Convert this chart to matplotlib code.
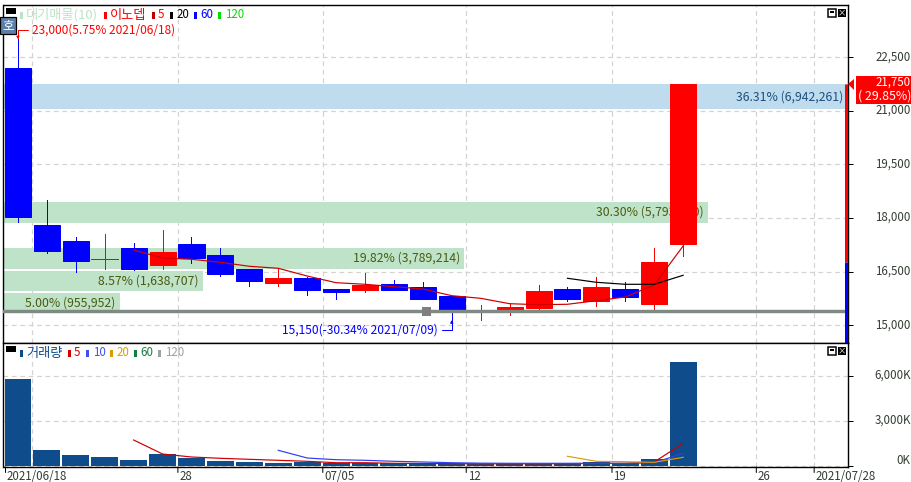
import matplotlib
matplotlib.use('Agg')
import matplotlib.pyplot as plt
from matplotlib.patches import Rectangle, Polygon
from matplotlib.transforms import Affine2D, blended_transform_factory, ScaledTranslation

plt.rcParams['font.family'] = ['Noto Sans CJK KR', 'DejaVu Sans']
plt.rcParams['font.size'] = 8.3

# candles, prices
opens = [22193, 17806, 17359, 16847, 17163, 16687, 17275, 16967, 16575, 16184, 16323, 16016,
         15988, 16156, 16072, 15820, 15392, 15428, 15484, 16016, 15680, 16016, 15596, 17283]
closes = [18031, 17087, 16808, 16847, 16575, 17051, 16883, 16435, 16239, 16323, 15988, 15932,
          16128, 15988, 15736, 15428, 15392, 15512, 15960, 15736, 16072, 15792, 16771, 21750]
highs = [23000, 18506, 17470, 17554, 17303, 17666, 17470, 17163, 16575, 16603, 16360, 16016,
         16463, 16268, 16212, 15820, 15568, 15624, 16128, 16072, 16351, 16212, 17163, 21750]
lows = [17891, 17031, 16500, 16575, 16547, 16575, 16743, 16379, 16100, 16100, 15848, 15736,
        15932, 15988, 15736, 15150, 15150, 15288, 15428, 15680, 15540, 15680, 15428, 16939]

ma5_start = 4
ma5 = [17107, 16883, 16847, 16763, 16651, 16595, 16379, 16192, 16147, 16080, 16016, 15828,
       15755, 15604, 15576, 15588, 15688, 15792, 16128, 17219]
ma20_start = 19
ma20 = [16315, 16203, 16147, 16147, 16399]

# volume profile bands
band_pct = [36.31, 30.30, 19.82, 8.57, 5.00]
band_vol = ['6,942,261', '5,793,000', '3,789,214', '1,638,707', '955,952']
band_low = [21038, 17871, 16575, 15960, 15336]
band_high = [21752, 18450, 17163, 16519, 15904]
band_color = ['#bfdcee', '#bfe3c8', '#bfe3c8', '#bfe3c8', '#bfe3c8']
band_text = ['#1c4f80', '#4a5a10', '#4a5a10', '#4a5a10', '#4a5a10']

support = 15392
support_idx = 14.12
price_ticks = [15000, 16500, 18000, 19500, 21000, 22500]
price_labels = ['15,000', '16,500', '18,000', '19,500', '21,000', '22,500']
split_price = 16771

# volume, in K
volume = [5800, 1050, 716, 582, 381, 783, 515, 314, 248, 181, 248, 181,
          181, 150, 150, 130, 110, 110, 130, 160, 248, 163, 448, 6942]
vol_ma5_start = 4
vol_ma5 = [1719, 783, 582, 495, 428, 361, 294, 200, 200, 160, 150, 140, 130, 130, 130, 140,
           150, 160, 248, 1500]
vol_ma10_start = 9
vol_ma10 = [1030, 515, 401, 361, 294, 250, 200, 170, 160, 160, 160, 160, 160, 200, 830]
vol_ma20_start = 19
vol_ma20 = [629, 294, 268, 227, 562]
vol_ticks = [0, 3000, 6000]
vol_labels = ['0K', '3,000K', '6,000K']

date_pos = [-0.43, 5.53, 10.54, 15.5, 20.54, 25.53, 27.53]
date_labels = ['2021/06/18', '28', '07/05', '12', '19', '26', '2021/07/28']
grid_pos = [0.5, 5.53, 10.54, 15.5, 20.54, 25.53, 27.53]

W, H = 912, 482
RED = '#ff0000'
BLUE = '#0000ff'
NAVY = '#0e4c8c'
px = 0.72

fig = plt.figure(figsize=(W / 100, H / 100), dpi=100)
ax = fig.add_axes([3.5 / W, 1 - 343.3 / H, 844.5 / W, 338.3 / H])
ax2 = fig.add_axes([3.5 / W, 1 - 467 / H, 844.5 / W, 123.7 / H])
ui = fig.add_axes([0, 0, 1, 1], zorder=10)
ui.set_xlim(0, W)
ui.set_ylim(H, 0)
ui.axis('off')

for a in (ax, ax2):
    a.set_xlim(-0.5, 28.7)
    a.yaxis.tick_right()
    a.set_xticks([])
    a.tick_params(axis='y', length=3.6, width=px, pad=41.5, labelcolor='#333d33')
    for s in a.spines.values():
        s.set_linewidth(1.4 * px)
    for g in grid_pos:
        a.axvline(g, color='#d6d2d2', lw=px * 1.2, ls=(0, (4, 3)), zorder=0)

ax.set_ylim(14496, 23962)
ax2.set_ylim(-87, 8189)

# price panel
ax.set_yticks(price_ticks, price_labels, ha='right')
for t in price_ticks:
    ax.axhline(t, color='#d6d2d2', lw=px * 1.2, ls=(0, (4, 3)), zorder=0)

band_tf = blended_transform_factory(Affine2D().scale(1 / 36.31) + ax.transAxes, ax.transData)
for p, v, lo, hi, c, tc in zip(band_pct, band_vol, band_low, band_high, band_color, band_text):
    ax.add_patch(Rectangle((0, lo), p, hi - lo, transform=band_tf, color=c, lw=0, zorder=1))
    ax.text(p - 0.2, (lo + hi) / 2, '%.2f%% (%s)' % (p, v), transform=band_tf, ha='right',
            va='center', color=tc, zorder=1.5, fontsize=8.8)

for i in range(len(opens)):
    c = RED if closes[i] >= opens[i] else BLUE
    ax.vlines(i, lows[i], highs[i], color=c, lw=0.9 * px, zorder=2, antialiased=False)
    if closes[i] == opens[i]:
        ax.hlines(opens[i], i - 0.46, i + 0.46, color=c, lw=0.9 * px, zorder=3, antialiased=False)
    else:
        ax.bar(i, closes[i] - opens[i], bottom=opens[i], width=0.9, color=c, edgecolor=c,
               lw=px, zorder=3)

ax.plot(range(ma5_start, ma5_start + len(ma5)), ma5, color='#d00000', lw=1.2 * px, zorder=4)
ax.plot(range(ma20_start, ma20_start + len(ma20)), ma20, color='black', lw=1.2 * px, zorder=4)

ax.axhline(support, color='#808a85', lw=3.4 * px, zorder=5)
ax.plot([support_idx], [support], 's', color='#7f7f7f', ms=9 * px, mew=0, zorder=6)

yt = ax.get_yaxis_transform()
ax.vlines(0.9975, split_price, closes[-1], transform=yt, color=RED, lw=3 * px, zorder=6)
ax.vlines(0.9975, 14496, split_price, transform=yt, color=BLUE, lw=3 * px, zorder=6)

ax.annotate('23,000(5.75% 2021/06/18)', xy=(0, highs[0]), xytext=(14, 9), textcoords='offset pixels',
            color=RED, ha='left', va='center', zorder=7, fontsize=8.55,
            arrowprops=dict(arrowstyle='-|>', connectionstyle='angle,angleA=0,angleB=90,rad=0',
                            color=RED, lw=px, shrinkB=0, shrinkA=1, mutation_scale=4))
ax.annotate('15,150(-30.34% 2021/07/09)', xy=(15, lows[15]), xytext=(-14, -10), textcoords='offset pixels',
            color=BLUE, ha='right', va='center', zorder=7, fontsize=8.65,
            arrowprops=dict(arrowstyle='-|>', connectionstyle='angle,angleA=0,angleB=90,rad=0',
                            color=BLUE, lw=px, shrinkB=0, shrinkA=1, mutation_scale=4))

# volume panel
ax2.set_yticks(vol_ticks, vol_labels, ha='right')
for t in vol_ticks:
    ax2.axhline(t, color='#d6d2d2', lw=px * 1.2, ls=(0, (4, 3)), zorder=0)
ax2.bar(range(len(volume)), volume, width=0.93, color=NAVY, lw=0, zorder=2)
ax2.plot(range(vol_ma5_start, vol_ma5_start + len(vol_ma5)), vol_ma5, color='#d00000', lw=1.2 * px, zorder=3)
ax2.plot(range(vol_ma10_start, vol_ma10_start + len(vol_ma10)), vol_ma10, color='#3040f0', lw=1.2 * px, zorder=4)
ax2.plot(range(vol_ma20_start, vol_ma20_start + len(vol_ma20)), vol_ma20, color='#e09a00', lw=1.2 * px, zorder=5)

# nudge the axis labels up a little, the 0K one more so it stays on the chart
up = ScaledTranslation(0, 1.5 / 72, fig.dpi_scale_trans)
for lab in ax.get_yticklabels() + ax2.get_yticklabels():
    lab.set_transform(lab.get_transform() + up)
zero_lab = ax2.get_yticklabels()[0]
zero_lab.set_transform(zero_lab.get_transform() + ScaledTranslation(0, 3.2 / 72, fig.dpi_scale_trans))

for p, lab in zip(date_pos, date_labels):
    ax2.annotate('', xy=(p, 0), xycoords=('data', 'axes fraction'), xytext=(p, -5.5),
                 textcoords=('data', 'offset pixels'), annotation_clip=False,
                 arrowprops=dict(arrowstyle='-', lw=px, color='black', shrinkA=0, shrinkB=0))
    ax2.annotate(lab, xy=(p, 0), xycoords=('data', 'axes fraction'), xytext=(1.5, -9),
                 textcoords='offset pixels', ha='left', va='center', color='#333d33',
                 annotation_clip=False)

# legends and chart furniture
legend_top = [(20, '#bce3c4', 26, '대기매물(10)', '#bce3c4', 9.5), (104, RED, 110, '이노뎁', RED, 9.5),
              (152, '#c00000', 158, '5', RED, 8.3), (170, 'black', 177, '20', 'black', 8.3),
              (194, BLUE, 200, '60', BLUE, 8.3), (218, '#00e000', 225, '120', '#00e000', 8.3)]
legend_vol = [(20, NAVY, 26, '거래량', NAVY, 9.5), (68, '#d00000', 74, '5', '#d00000', 8.3),
              (86, '#4050f0', 93, '10', '#4050f0', 8.3), (110, '#e09a00', 117, '20', '#e09a00', 8.3),
              (134, '#108040', 140, '60', '#108040', 8.3), (158, '#a0a0a0', 165, '120', '#a0a0a0', 8.3)]
for items, yc in ((legend_top, 15), (legend_vol, 353)):
    ui.add_patch(Rectangle((6, yc - 7), 10, 6, color='black', lw=0))
    for mx, mc, tx, s, tc, fs in items:
        ui.add_patch(Rectangle((mx, yc - 3.5), 3, 7, color=mc, lw=0))
        ui.text(tx, yc, s, color=tc, ha='left', va='center', fontsize=fs)
    ui.add_patch(Rectangle((828, yc - 6), 8, 7.5, facecolor='white', edgecolor='black', lw=1.5 * px))
    ui.add_patch(Rectangle((830, yc - 4), 4, 2, color='black', lw=0))
    ui.add_patch(Rectangle((838, yc - 6.5), 8, 8, color='black', lw=0))
    ui.text(842, yc - 2.5, '×', color='white', ha='center', va='center', fontsize=6)

ui.add_patch(Rectangle((0, 17), 16, 17, facecolor='#5b7fa8', edgecolor='black', lw=1.2 * px))
ui.text(8, 25.5, '호', color='white', ha='center', va='center', fontsize=9)

ui.add_patch(Polygon([(848, 84), (854, 79), (854, 90)], color=RED, lw=0))
ui.add_patch(Rectangle((856, 76), 56, 27.5, color=RED, lw=0))
ui.text(911, 82.5, '21,750', color='white', ha='right', va='center')
ui.text(911, 96.5, '( 29.85%)', color='white', ha='right', va='center', fontsize=8.9)

fig.savefig('out.png', dpi=100)
